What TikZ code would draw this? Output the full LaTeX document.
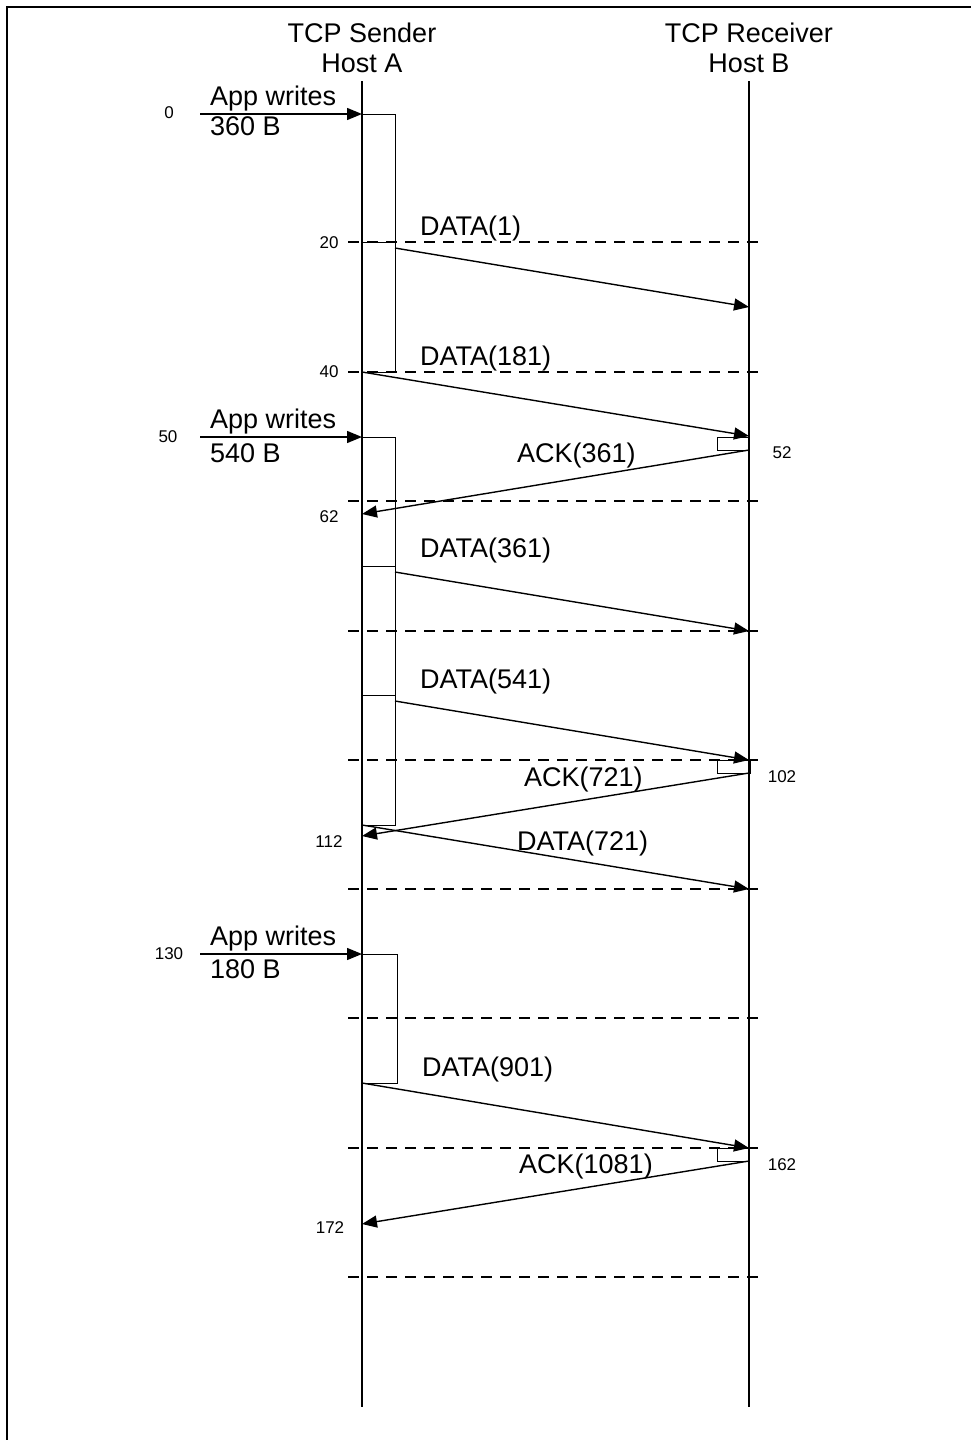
\documentclass[tikz,border=0pt]{standalone}
\usepackage{fontspec}
\setmainfont{Liberation Sans}
\usetikzlibrary{arrows.meta}
\begin{document}
\begin{tikzpicture}[x=1pt,y=-1pt,
  big/.style={font=\fontsize{27}{30}\selectfont, inner sep=0pt},
  small/.style={font=\fontsize{17}{20}\selectfont, inner sep=0pt},
  lifeline/.style={line width=2.2pt},
  msg/.style={line width=1.4pt, -{Triangle[length=15pt,width=12pt]}},
  act/.style={draw, line width=1pt},
  tick/.style={line width=1.5pt, dash pattern=on 11pt off 8pt}]
\useasboundingbox (0,0) rectangle (971,1440);
% frame
\draw[line width=2pt] (7,1440) -- (7,7) -- (971,7);
% titles
\node[big, anchor=base] (tA1) at (362,42) {TCP Sender};
\node[big, anchor=base] (tA2) at (362,72) {Host A};
\node[big, anchor=base] (tB1) at (749,42) {TCP Receiver};
\node[big, anchor=base] (tB2) at (749,72) {Host B};
% dashed time lines
\foreach \yy in {242,372,501,631,760,889,1018,1148,1277}
  \draw[tick] (348,\yy) -- (765,\yy);
% activation boxes (sender)
\node[act, minimum width=33pt, minimum height=128pt, anchor=north west, inner sep=0pt] (s1) at (362,114) {};
\node[act, minimum width=33pt, minimum height=130pt, anchor=north west, inner sep=0pt] (s2) at (362,242) {};
\node[act, minimum width=33pt, minimum height=129pt, anchor=north west, inner sep=0pt] (s3) at (362,437) {};
\node[act, minimum width=33pt, minimum height=129pt, anchor=north west, inner sep=0pt] (s4) at (362,566) {};
\node[act, minimum width=33pt, minimum height=130pt, anchor=north west, inner sep=0pt] (s5) at (362,695) {};
\node[act, minimum width=35pt, minimum height=129pt, anchor=north west, inner sep=0pt] (s6) at (362,954) {};
% receiver boxes
\node[act, minimum width=31pt, minimum height=13pt, anchor=north east, inner sep=0pt] (r1) at (749,437) {};
\node[act, minimum width=33pt, minimum height=13pt, anchor=north east, inner sep=0pt] (r2) at (751,760) {};
\node[act, minimum width=31pt, minimum height=13pt, anchor=north east, inner sep=0pt] (r3) at (749,1148) {};
% lifelines
\coordinate (Atop) at (362,81); \coordinate (Abot) at (362,1407);
\coordinate (Btop) at (749,81); \coordinate (Bbot) at (749,1407);
\draw[lifeline] (Atop) -- (Abot);
\draw[lifeline] (Btop) -- (Bbot);
% app writes
\coordinate (w1) at (200,114); \coordinate (w1e) at (362,114);
\coordinate (w2) at (200,437); \coordinate (w2e) at (362,437);
\coordinate (w3) at (200,954); \coordinate (w3e) at (362,954);
\draw[msg] (w1) -- (w1e);
\draw[msg] (w2) -- (w2e);
\draw[msg] (w3) -- (w3e);
\node[big, anchor=base west] (aw1) at (210,105) {App writes};
\node[big, anchor=base west] (ab1) at (210,135) {360 B};
\node[big, anchor=base west] (aw2) at (210,428) {App writes};
\node[big, anchor=base west] (ab2) at (210,462) {540 B};
\node[big, anchor=base west] (aw3) at (210,945) {App writes};
\node[big, anchor=base west] (ab3) at (210,978) {180 B};
% messages
\coordinate (m1s) at (395,248);  \coordinate (m1e) at (749,307);
\coordinate (m2s) at (362,372);  \coordinate (m2e) at (749,436);
\coordinate (m3s) at (749,450);  \coordinate (m3e) at (362,514);
\coordinate (m4s) at (395,572);  \coordinate (m4e) at (749,631);
\coordinate (m5s) at (395,701);  \coordinate (m5e) at (749,760);
\coordinate (m6s) at (749,773);  \coordinate (m6e) at (362,836);
\coordinate (m7s) at (362,825);  \coordinate (m7e) at (749,889);
\coordinate (m8s) at (362,1083); \coordinate (m8e) at (749,1148);
\coordinate (m9s) at (749,1161); \coordinate (m9e) at (362,1224);
\foreach \i in {1,...,9} \draw[msg] (m\i s) -- (m\i e);
% message labels
\node[big, anchor=base west] (l1) at (420,235) {DATA(1)};
\node[big, anchor=base west] (l2) at (420,365) {DATA(181)};
\node[big, anchor=base west] (l3) at (517,462) {ACK(361)};
\node[big, anchor=base west] (l4) at (420,557) {DATA(361)};
\node[big, anchor=base west] (l5) at (420,688) {DATA(541)};
\node[big, anchor=base west] (l6) at (524,786) {ACK(721)};
\node[big, anchor=base west] (l7) at (517,850) {DATA(721)};
\node[big, anchor=base west] (l8) at (422,1076) {DATA(901)};
\node[big, anchor=base west] (l9) at (519,1173) {ACK(1081)};
% time stamps
\node[small] (t0) at (169,113) {0};
\node[small] (t50) at (168,437) {50};
\node[small] (t130) at (169,954) {130};
\node[small] (t20) at (329,243) {20};
\node[small] (t40) at (329,372) {40};
\node[small] (t62) at (329,517) {62};
\node[small] (t112) at (329,842) {112};
\node[small] (t172) at (330,1228) {172};
\node[small] (t52) at (782,453) {52};
\node[small] (t102) at (782,777) {102};
\node[small] (t162) at (782,1165) {162};
\end{tikzpicture}
\end{document}
